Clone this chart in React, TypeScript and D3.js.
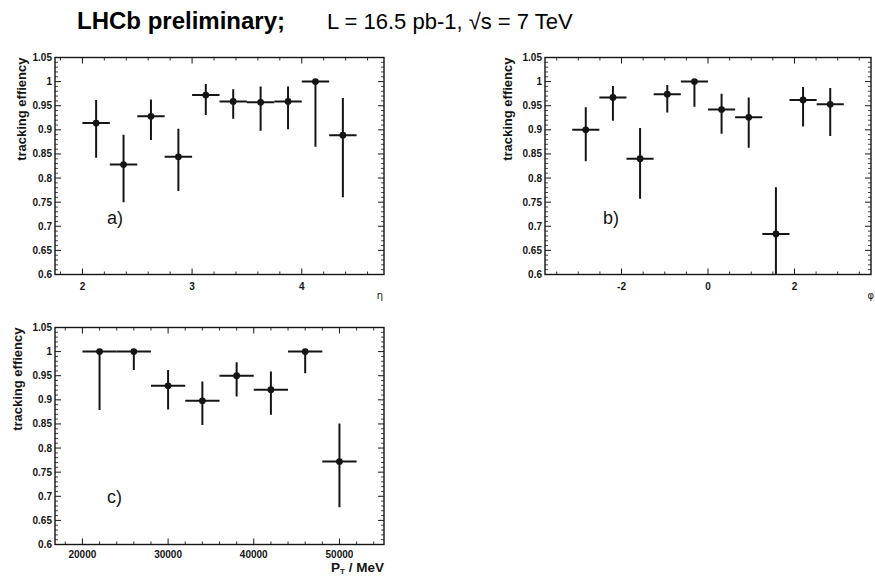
import React from 'react';
import * as d3 from 'd3';

// Efficiency vs pseudorapidity (bins of 0.25 from 2.0 to 4.5)
const etaCenters = [2.125, 2.375, 2.625, 2.875, 3.125, 3.375, 3.625, 3.875, 4.125, 4.375];
const etaHalfWidth = 0.125;
const etaEff = [0.914, 0.828, 0.928, 0.844, 0.972, 0.959, 0.957, 0.959, 1.0, 0.889];
const etaUp = [0.962, 0.89, 0.963, 0.902, 0.995, 0.984, 0.99, 0.99, 1.0, 0.966];
const etaDown = [0.842, 0.75, 0.879, 0.773, 0.931, 0.923, 0.898, 0.901, 0.865, 0.76];
const etaTicks = [2, 3, 4];

// Efficiency vs azimuth (10 bins over -pi..pi)
const phiCenters = [-2.827, -2.199, -1.571, -0.942, -0.314, 0.314, 0.942, 1.571, 2.199, 2.827];
const phiHalfWidth = 0.314;
const phiEff = [0.9, 0.967, 0.84, 0.974, 1.0, 0.942, 0.926, 0.684, 0.962, 0.953];
const phiUp = [0.947, 0.991, 0.904, 0.993, 1.0, 0.975, 0.967, 0.781, 0.989, 0.987];
const phiDown = [0.835, 0.919, 0.757, 0.936, 0.948, 0.892, 0.863, 0.58, 0.907, 0.887];
const phiTicks = [-2, 0, 2];

// Efficiency vs transverse momentum (bins of 4000 MeV from 20000 to 52000)
const ptCenters = [22000, 26000, 30000, 34000, 38000, 42000, 46000, 50000];
const ptHalfWidth = 2000;
const ptEff = [1.0, 1.0, 0.929, 0.898, 0.95, 0.921, 1.0, 0.772];
const ptUp = [1.0, 1.0, 0.962, 0.938, 0.978, 0.959, 1.0, 0.851];
const ptDown = [0.879, 0.962, 0.88, 0.848, 0.907, 0.869, 0.955, 0.677];
const ptTicks = [20000, 30000, 40000, 50000];

const yTickValues = [0.6, 0.65, 0.7, 0.75, 0.8, 0.85, 0.9, 0.95, 1.0, 1.05];
const yTickLabels = ['0.6', '0.65', '0.7', '0.75', '0.8', '0.85', '0.9', '0.95', '1', '1.05'];

const FONT = '"Liberation Sans", Arial, Helvetica, sans-serif';
const GREEK = '"DejaVu Sans", "Liberation Sans", sans-serif';
const INK = '#151515';

type PanelProps = {
  id: string;
  left: number;
  right: number;
  top: number;
  bottom: number;
  xDomain: [number, number];
  xTicks: number[];
  xMinorStep: number;
  centers: number[];
  halfWidth: number;
  eff: number[];
  up: number[];
  down: number[];
  tag: string;
  tagX: number;
  tagY: number;
  xTitle: React.ReactNode;
  titleOffset: number;
  labelGap: number;
};

function Panel(p: PanelProps) {
  const x = d3.scaleLinear().domain(p.xDomain).range([p.left, p.right]);
  const y = d3.scaleLinear().domain([0.6, 1.05]).range([p.bottom, p.top]);

  const eps = 1e-6;
  const xMinor = d3
    .range(Math.ceil(p.xDomain[0] / p.xMinorStep) * p.xMinorStep, p.xDomain[1] + eps, p.xMinorStep)
    .filter((v) => !p.xTicks.some((t) => Math.abs(t - v) < p.xMinorStep * 0.01));
  const yMinor = d3
    .range(0.6, 1.05 + eps, 0.01)
    .filter((v) => !yTickValues.some((t) => Math.abs(t - v) < 0.001));

  const majLen = 6;
  const minLen = 3;
  const clipId = `clip-${p.id}`;

  return (
    <g>
      <defs>
        <clipPath id={clipId}>
          <rect x={p.left} y={p.top} width={p.right - p.left} height={p.bottom - p.top} />
        </clipPath>
      </defs>
      {/* frame */}
      <rect
        x={p.left}
        y={p.top}
        width={p.right - p.left}
        height={p.bottom - p.top}
        fill="none"
        stroke={INK}
        strokeWidth={1.4}
      />
      {/* x ticks, bottom and top */}
      {p.xTicks.map((t) => (
        <g key={`xm${t}`} stroke={INK} strokeWidth={1}>
          <line x1={x(t)} x2={x(t)} y1={p.bottom} y2={p.bottom - majLen} />
          <line x1={x(t)} x2={x(t)} y1={p.top} y2={p.top + majLen} />
        </g>
      ))}
      {xMinor.map((t) => (
        <g key={`xn${t}`} stroke={INK} strokeWidth={0.9}>
          <line x1={x(t)} x2={x(t)} y1={p.bottom} y2={p.bottom - minLen} />
          <line x1={x(t)} x2={x(t)} y1={p.top} y2={p.top + minLen} />
        </g>
      ))}
      {/* y ticks, left and right */}
      {yTickValues.map((t) => (
        <g key={`ym${t}`} stroke={INK} strokeWidth={1}>
          <line x1={p.left} x2={p.left + majLen} y1={y(t)} y2={y(t)} />
          <line x1={p.right} x2={p.right - majLen} y1={y(t)} y2={y(t)} />
        </g>
      ))}
      {yMinor.map((t) => (
        <g key={`yn${t}`} stroke={INK} strokeWidth={0.8}>
          <line x1={p.left} x2={p.left + minLen} y1={y(t)} y2={y(t)} />
          <line x1={p.right} x2={p.right - minLen} y1={y(t)} y2={y(t)} />
        </g>
      ))}
      {/* tick labels */}
      {yTickValues.map((t, i) => (
        <text
          key={`yl${t}`}
          x={p.left - 3}
          y={y(t)}
          dy="0.35em"
          textAnchor="end"
          fontFamily={FONT}
          fontWeight="bold"
          fontSize={10}
          fill={INK}
        >
          {yTickLabels[i]}
        </text>
      ))}
      {p.xTicks.map((t) => (
        <text
          key={`xl${t}`}
          x={x(t)}
          y={p.bottom + p.labelGap}
          textAnchor="middle"
          fontFamily={FONT}
          fontWeight="bold"
          fontSize={10}
          fill={INK}
        >
          {String(t)}
        </text>
      ))}
      {/* y axis title */}
      <text
        transform={`translate(${p.left - p.titleOffset},${p.top}) rotate(-90)`}
        textAnchor="end"
        fontFamily={FONT}
        fontWeight="bold"
        fontSize={13}
        fill={INK}
      >
        tracking effiency
      </text>
      {p.xTitle}
      {/* panel tag */}
      <text x={p.tagX} y={p.tagY} fontFamily={FONT} fontSize={18} fill={INK}>
        {p.tag}
      </text>
      {/* data points with error bars */}
      <g clipPath={`url(#${clipId})`} stroke={INK} strokeWidth={2}>
        {p.centers.map((c, i) => (
          <g key={`pt${i}`}>
            <line x1={x(c - p.halfWidth)} x2={x(c + p.halfWidth)} y1={y(p.eff[i])} y2={y(p.eff[i])} />
            <line x1={x(c)} x2={x(c)} y1={y(p.up[i])} y2={y(p.down[i])} />
            <circle cx={x(c)} cy={y(p.eff[i])} r={3.4} fill={INK} stroke="none" />
          </g>
        ))}
      </g>
    </g>
  );
}

export default function App() {
  return (
    <svg
      width={875}
      height={576}
      viewBox="0 0 875 576"
      style={{ position: 'absolute', left: 0, top: 0, background: '#fff' }}
    >
      <rect x={0} y={0} width={875} height={576} fill="#fff" />
      <text x={77} y={29} fontFamily={FONT} fontWeight="bold" fontSize={24} fill="#000">
        LHCb preliminary;
      </text>
      <text x={327} y={29} fontFamily={FONT} fontSize={22} fill="#000">
        L = 16.5 pb-1, √s = 7 TeV
      </text>

      <Panel
        id="eta"
        left={55}
        right={384}
        top={57.5}
        bottom={274.5}
        xDomain={[1.75, 4.75]}
        xTicks={etaTicks}
        xMinorStep={0.2}
        centers={etaCenters}
        halfWidth={etaHalfWidth}
        eff={etaEff}
        up={etaUp}
        down={etaDown}
        tag="a)"
        tagX={107}
        tagY={224}
        titleOffset={29}
        labelGap={15}
        xTitle={
          <text x={383} y={299} textAnchor="end" fontFamily={GREEK} fontSize={10} fill={INK}>
            η
          </text>
        }
      />
      <Panel
        id="phi"
        left={545}
        right={871}
        top={57.5}
        bottom={274.5}
        xDomain={[-3.77, 3.77]}
        xTicks={phiTicks}
        xMinorStep={0.5}
        centers={phiCenters}
        halfWidth={phiHalfWidth}
        eff={phiEff}
        up={phiUp}
        down={phiDown}
        tag="b)"
        tagX={603}
        tagY={224}
        titleOffset={33}
        labelGap={15}
        xTitle={
          <text x={874} y={299} textAnchor="end" fontFamily={GREEK} fontSize={10} fill={INK}>
            φ
          </text>
        }
      />
      <Panel
        id="pt"
        left={55}
        right={384}
        top={327.5}
        bottom={544.5}
        xDomain={[16800, 55200]}
        xTicks={ptTicks}
        xMinorStep={2000}
        centers={ptCenters}
        halfWidth={ptHalfWidth}
        eff={ptEff}
        up={ptUp}
        down={ptDown}
        tag="c)"
        tagX={107}
        tagY={503}
        titleOffset={33}
        labelGap={13.5}
        xTitle={
          <text x={384} y={572} textAnchor="end" fontFamily={FONT} fontWeight="bold" fontSize={13.5} fill={INK}>
            P
            <tspan fontSize={8} dy={2}>T</tspan>
            <tspan dy={-2}> / MeV</tspan>
          </text>
        }
      />
    </svg>
  );
}
